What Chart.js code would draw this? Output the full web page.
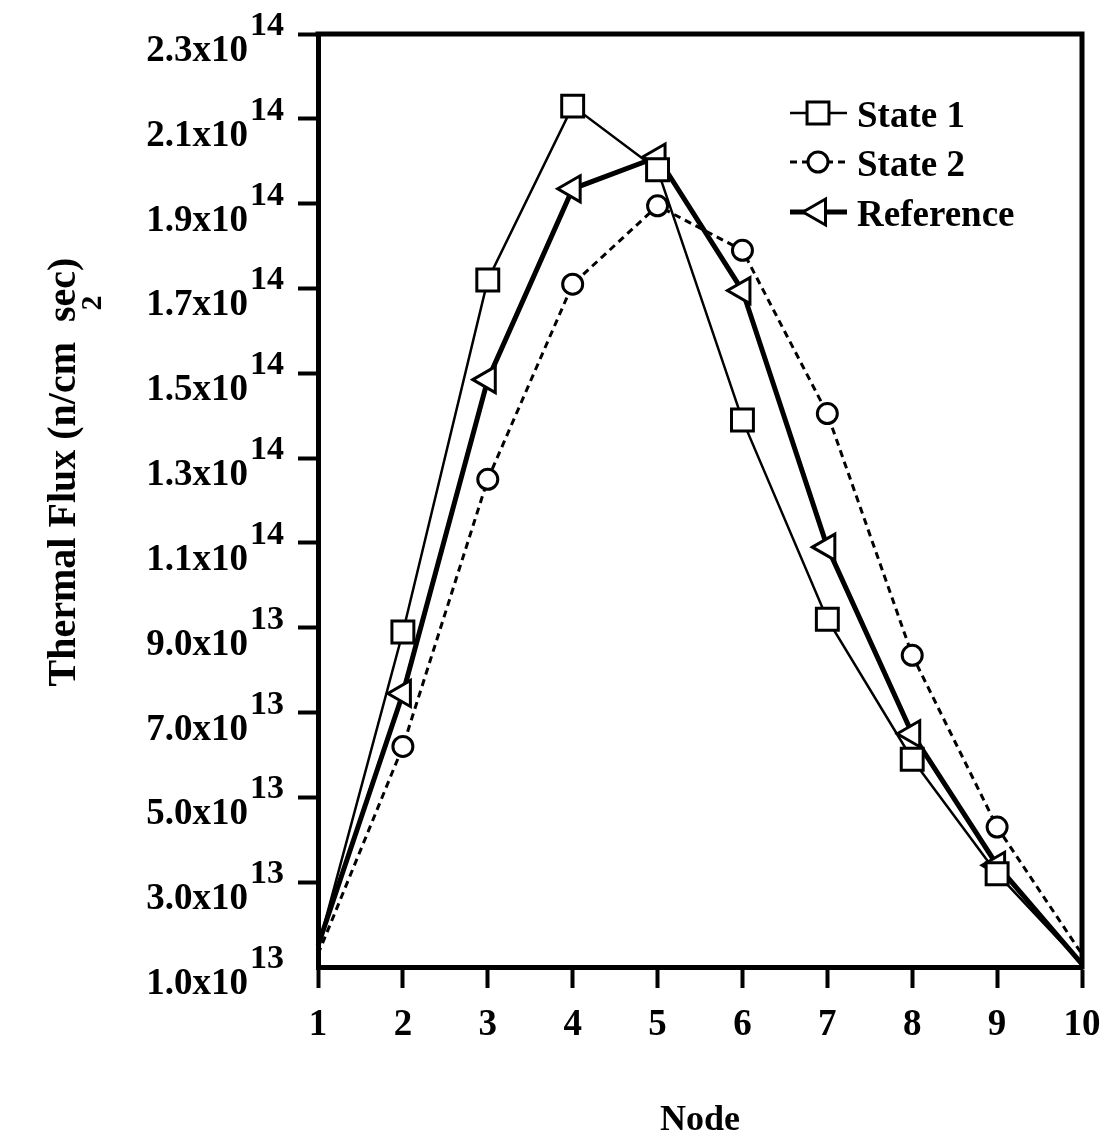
<!DOCTYPE html>
<html>
<head>
<meta charset="utf-8">
<title>Thermal Flux by Node</title>
<script src="https://cdn.jsdelivr.net/npm/chart.js@4.4.1/dist/chart.umd.min.js"></script>
<style>
  html, body { margin: 0; padding: 0; background: #fff; }
  #wrap { width: 1104px; height: 1139px; position: relative; }
</style>
</head>
<body>
<div id="wrap"><canvas id="fluxChart"></canvas></div>
<script>
// Datos
const nodeLabels = ['1', '2', '3', '4', '5', '6', '7', '8', '9', '10'];
const state1 = [1.45e13, 8.9e13, 1.72e14, 2.13e14, 1.98e14, 1.39e14, 9.2e13, 5.9e13, 3.2e13, 1.07e13];
const state2 = [1.3e13, 6.2e13, 1.25e14, 1.71e14, 1.895e14, 1.79e14, 1.405e14, 8.35e13, 4.3e13, 1.3e13];
const reference = [1.5e13, 7.45e13, 1.485e14, 1.935e14, 2.01e14, 1.695e14, 1.09e14, 6.5e13, 3.4e13, 1.07e13];

// Marcas del eje Y (mantisa y exponente por separado)
const yTickValues = [1e13, 3e13, 5e13, 7e13, 9e13, 1.1e14, 1.3e14, 1.5e14, 1.7e14, 1.9e14, 2.1e14, 2.3e14];
const yTickBase = ['1.0x10', '3.0x10', '5.0x10', '7.0x10', '9.0x10', '1.1x10', '1.3x10', '1.5x10', '1.7x10', '1.9x10', '2.1x10', '2.3x10'];
const yTickExp = ['13', '13', '13', '13', '13', '14', '14', '14', '14', '14', '14', '14'];

const seriesNames = ['State 1', 'State 2', 'Reference'];
const yTitle = 'Thermal Flux (n/cm  sec)';
const xTitle = 'Node';

const FONT = '"Liberation Serif", "Times New Roman", Times, serif';

// Sin marcador en el primer y último nodo
function edgeless(r) {
    return ctx => (ctx.dataIndex === 0 || ctx.dataIndex === nodeLabels.length - 1) ? 0 : r;
}

// Plugin para marco, etiquetas con superíndice, título Y y leyenda
const decorPlugin = {
    id: 'decor',
    afterDraw(chart) {
        const { ctx, chartArea: a, scales: { y } } = chart;
        ctx.save();

        // marco superior y derecho
        ctx.strokeStyle = '#000';
        ctx.lineWidth = 5;
        ctx.lineCap = 'square';
        ctx.beginPath();
        ctx.moveTo(a.left, a.top);
        ctx.lineTo(a.right, a.top);
        ctx.lineTo(a.right, a.bottom);
        ctx.stroke();

        // etiquetas del eje Y
        ctx.fillStyle = '#000';
        ctx.textBaseline = 'alphabetic';
        yTickValues.forEach((v, i) => {
            const py = y.getPixelForValue(v);
            ctx.font = 'bold 37px ' + FONT;
            ctx.textAlign = 'right';
            ctx.fillText(yTickBase[i], 248, py + 27);
            ctx.font = 'bold 34px ' + FONT;
            ctx.textAlign = 'left';
            ctx.fillText(yTickExp[i], 250, py + 1);
        });

        // título del eje Y
        ctx.save();
        ctx.translate(75, 472);
        ctx.rotate(-Math.PI / 2);
        ctx.font = 'bold 40px ' + FONT;
        ctx.textAlign = 'center';
        ctx.fillText(yTitle, 0, 0);
        ctx.restore();
        ctx.save();
        ctx.translate(93, 303);
        ctx.rotate(-Math.PI / 2);
        ctx.font = 'bold 30px ' + FONT;
        ctx.textAlign = 'center';
        ctx.textBaseline = 'middle';
        ctx.fillText('2', 0, 0);
        ctx.restore();

        // leyenda
        const rows = [113, 162, 212];
        chart.data.datasets.forEach((ds, i) => {
            const ly = rows[i];
            ctx.save();
            ctx.strokeStyle = '#000';
            ctx.lineWidth = ds.borderWidth;
            ctx.setLineDash(ds.borderDash || []);
            ctx.lineCap = 'butt';
            ctx.beginPath();
            ctx.moveTo(790, ly);
            ctx.lineTo(847, ly);
            ctx.stroke();
            ctx.setLineDash([]);
            ctx.fillStyle = '#fff';
            ctx.lineWidth = ds.pointBorderWidth;
            Chart.helpers.drawPoint(ctx, {
                pointStyle: ds.pointStyle,
                radius: ds.legendRadius,
                rotation: ds.pointRotation || 0,
                borderWidth: ds.pointBorderWidth
            }, 818, ly);
            ctx.restore();
            ctx.fillStyle = '#000';
            ctx.font = 'bold 37px ' + FONT;
            ctx.textAlign = 'left';
            ctx.textBaseline = 'alphabetic';
            ctx.fillText(ds.label, 857, ly + 14);
        });

        ctx.restore();
    }
};

function createChart() {
    const canvas = document.getElementById('fluxChart');
    new Chart(canvas.getContext('2d'), {
        type: 'line',
        data: {
            labels: nodeLabels,
            datasets: [{
                label: seriesNames[0],
                data: state1,
                borderColor: '#000',
                borderWidth: 2.5,
                pointStyle: 'rect',
                pointRadius: edgeless(15.5),
                legendRadius: 15.5,
                pointBackgroundColor: '#fff',
                pointBorderColor: '#000',
                pointBorderWidth: 3,
                tension: 0,
                fill: false
            }, {
                label: seriesNames[1],
                data: state2,
                borderColor: '#000',
                borderWidth: 3,
                borderDash: [7, 5],
                pointStyle: 'circle',
                pointRadius: edgeless(10),
                legendRadius: 10,
                pointBackgroundColor: '#fff',
                pointBorderColor: '#000',
                pointBorderWidth: 3,
                tension: 0,
                fill: false
            }, {
                label: seriesNames[2],
                data: reference,
                borderColor: '#000',
                borderWidth: 5,
                pointStyle: 'triangle',
                pointRotation: -90,
                pointRadius: edgeless(15),
                legendRadius: 15,
                pointBackgroundColor: '#fff',
                pointBorderColor: '#000',
                pointBorderWidth: 3,
                tension: 0,
                fill: false
            }]
        },
        options: {
            responsive: true,
            maintainAspectRatio: false,
            animation: false,
            devicePixelRatio: 1,
            layout: { padding: { left: 298, top: 34, right: 22, bottom: 0 } },
            plugins: {
                legend: { display: false },
                tooltip: { enabled: false }
            },
            scales: {
                x: {
                    type: 'category',
                    offset: false,
                    border: { display: true, color: '#000', width: 5 },
                    grid: {
                        drawOnChartArea: false,
                        drawTicks: true,
                        tickLength: 21,
                        tickWidth: 4,
                        tickColor: '#000'
                    },
                    ticks: {
                        color: '#000',
                        font: { family: FONT, size: 37, weight: 'bold', lineHeight: 2.0 },
                        padding: 0,
                        maxRotation: 0,
                        autoSkip: false
                    },
                    title: {
                        display: true,
                        text: xTitle,
                        color: '#000',
                        font: { family: FONT, size: 36, weight: 'bold', lineHeight: 1.0 },
                        padding: { top: 41, bottom: 0 }
                    }
                },
                y: {
                    type: 'linear',
                    min: 1e13,
                    max: 2.3e14,
                    afterBuildTicks: scale => {
                        scale.ticks = yTickValues.map(v => ({ value: v }));
                    },
                    border: { display: true, color: '#000', width: 5 },
                    grid: {
                        drawOnChartArea: false,
                        drawTicks: true,
                        tickLength: 20,
                        tickWidth: 4,
                        tickColor: ctx => ctx.index === 0 ? 'rgba(0,0,0,0)' : '#000'
                    },
                    ticks: { display: false }
                }
            }
        },
        plugins: [decorPlugin]
    });
}

window.addEventListener('load', createChart);
</script>
</body>
</html>
